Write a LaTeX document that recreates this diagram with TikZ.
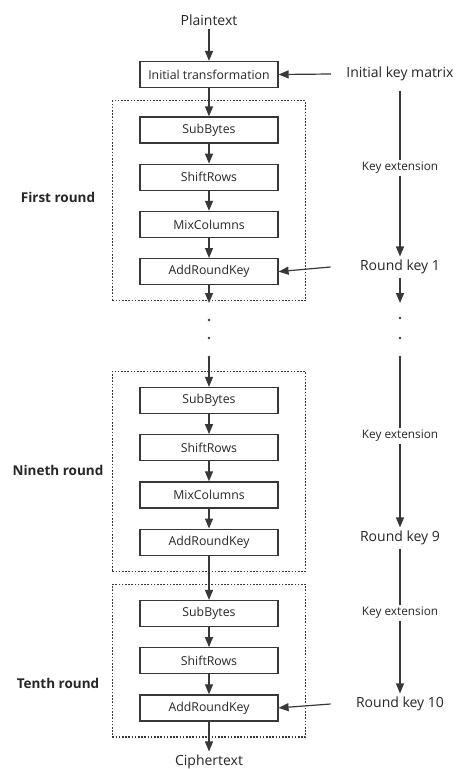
\documentclass[tikz,border=0pt]{standalone}
\usepackage{fontspec}
\setmainfont{Open Sans}
\usetikzlibrary{arrows.meta, positioning, fit}

\begin{document}
\begin{tikzpicture}[
  x=1pt, y=-1pt,
  every node/.style = {text=black!85},
  stepbox/.style = {draw=black!78, line width=1.2pt, minimum width=138pt, minimum height=26pt,
                    inner sep=0pt, font=\fontsize{12.3}{14}\selectfont},
  roundbox/.style = {draw=black!78, line width=1.1pt, dash pattern=on 1.6pt off 1.6pt,
                     inner xsep=27pt, inner ysep=15.5pt},
  io/.style = {font=\fontsize{14}{16}\selectfont},
  keytext/.style = {font=\fontsize{11.8}{13}\selectfont, inner sep=2pt},
  roundtext/.style = {font=\bfseries\fontsize{13.5}{16}\selectfont},
  dot/.style = {circle, fill=black!78, inner sep=0pt, minimum size=2.6pt},
  arrow/.style = {draw=black!78, line width=1.2pt, -{Triangle[length=10pt, width=8pt]}},
  line/.style = {draw=black!78, line width=1.2pt},
  node distance=20pt
]
  \useasboundingbox (0,0) rectangle (456,769);

  % Input and initial transformation
  \node[io] (pt) at (209,20) {Plaintext};
  \node[stepbox] (init) at (209,74.5) {Initial transformation};
  \node[io] (ikm) at (400,74) {Initial key matrix};

  % First round
  \node[stepbox] (sb1) at (209,130) {SubBytes};
  \node[stepbox, below=of sb1] (sr1) {ShiftRows};
  \node[stepbox, below=of sr1] (mc1) {MixColumns};
  \node[stepbox, below=of mc1] (ark1) {AddRoundKey};
  \node[roundbox, fit=(sb1)(ark1)] (r1) {};
  \node[roundtext] (r1lab) at (58,197) {First round};
  \node[keytext] (ke1) at (400,168) {Key extension};
  \node[io] (rk1) at (400,267) {Round key 1};

  % Nineth round
  \node[stepbox] (sb9) at (209,400.5) {SubBytes};
  \node[stepbox, below=of sb9] (sr9) {ShiftRows};
  \node[stepbox, below=of sr9] (mc9) {MixColumns};
  \node[stepbox, below=of mc9] (ark9) {AddRoundKey};
  \node[roundbox, fit=(sb9)(ark9)] (r9) {};
  \node[roundtext] (r9lab) at (58,470) {Nineth round};
  \node[keytext] (ke9) at (400,436) {Key extension};
  \node[io] (rk9) at (400,538) {Round key 9};

  % Tenth round
  \node[stepbox] (sb10) at (209,613.5) {SubBytes};
  \node[stepbox, below=of sb10] (sr10) {ShiftRows};
  \node[stepbox, below=of sr10] (ark10) {AddRoundKey};
  \node[roundbox, fit=(sb10)(ark10)] (r10) {};
  \node[roundtext] (r10lab) at (58,683) {Tenth round};
  \node[keytext] (ke10) at (400,613) {Key extension};
  \node[io] (rk10) at (400,704) {Round key 10};
  \node[io] (ct) at (209,762) {Ciphertext};

  % Dots between rounds
  \coordinate (l1end) at (209,303);
  \coordinate (r1end) at (400,303);
  \node[dot] (ld1) at (209,320) {};
  \node[dot] (ld2) at (209,338) {};
  \node[dot] (ld3) at (209,357) {};
  \node[dot] (rd1) at (400,318) {};
  \node[dot] (rd2) at (400,338) {};
  \node[dot] (rd3) at (400,357) {};

  % Data path
  \draw[arrow] (pt.south) -- (init.north);
  \draw[arrow] (init.south) -- (sb1.north);
  \draw[arrow] (sb1) -- (sr1);
  \draw[arrow] (sr1) -- (mc1);
  \draw[arrow] (mc1) -- (ark1);
  \draw[arrow] (ark1.south) -- (l1end);
  \draw[arrow] (ld3.center) -- (sb9.north);
  \draw[arrow] (sb9) -- (sr9);
  \draw[arrow] (sr9) -- (mc9);
  \draw[arrow] (mc9) -- (ark9);
  \draw[arrow] (ark9.south) -- (sb10.north);
  \draw[arrow] (sb10) -- (sr10);
  \draw[arrow] (sr10) -- (ark10);
  \draw[arrow] (ark10.south) -- (ct.north);

  % Key path
  \draw[line, shorten <=6pt] (ikm.south) -- (ke1.north);
  \draw[arrow] (ke1.south) -- (rk1.north);
  \draw[arrow] (rk1.south) -- (r1end);
  \draw[line] (rd3.center) -- (ke9.north);
  \draw[arrow] (ke9.south) -- (rk9.north);
  \draw[line] (rk9.south) -- (ke10.north);
  \draw[arrow] (ke10.south) -- (rk10.north);

  % Keys into the rounds
  \draw[arrow] ([xshift=-12pt]ikm.west) -- (init.east);
  \draw[arrow] ([xshift=-26pt]rk1.west) -- (ark1.east);
  \draw[arrow] ([xshift=-22pt]rk10.west) -- (ark10.east);
\end{tikzpicture}
\end{document}
